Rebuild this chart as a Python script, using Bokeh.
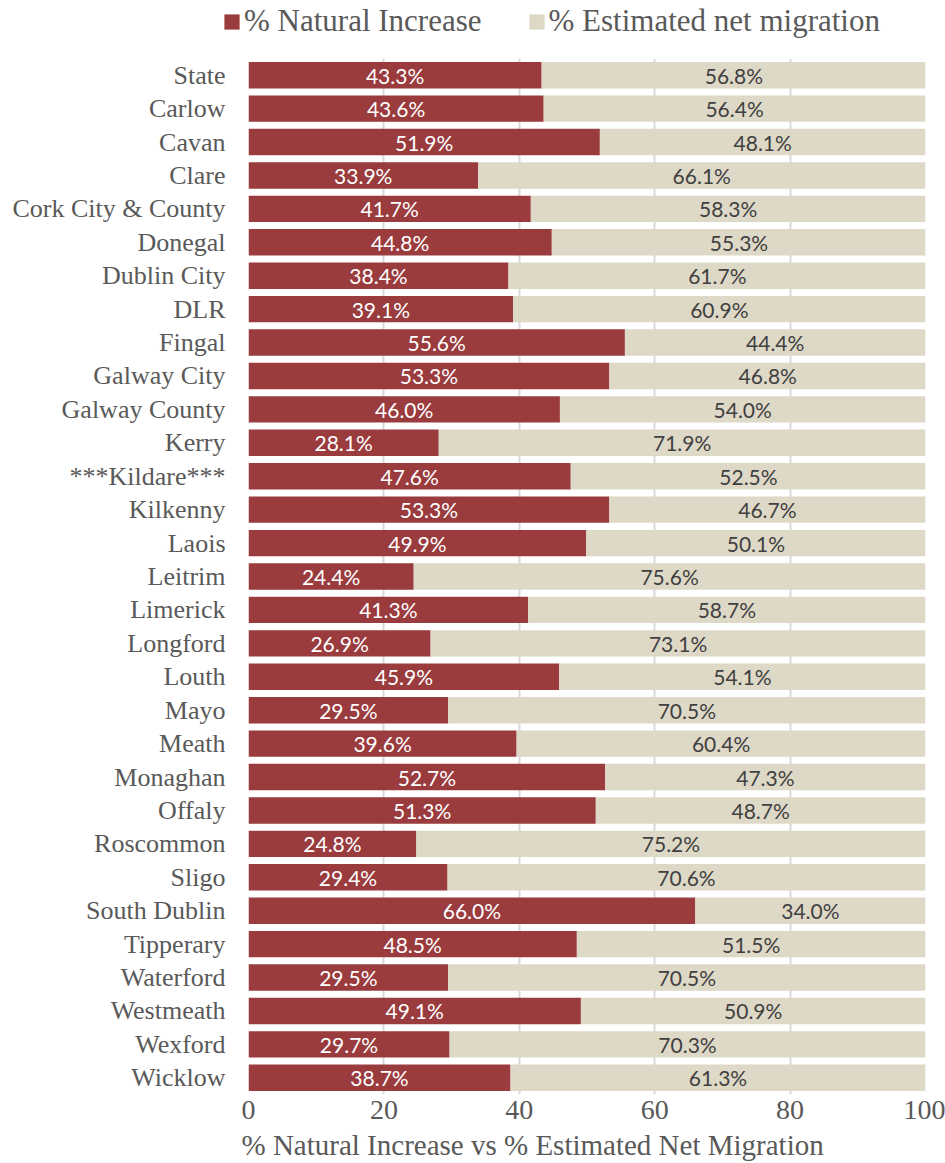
from bokeh.plotting import figure
from bokeh.models import ColumnDataSource, Range1d, FactorRange, Legend, LegendItem, FixedTicker, Title
from bokeh.layouts import column, row
from bokeh.core.properties import value
from bokeh.embed import file_html
from bokeh.resources import INLINE

categories = ["State", "Carlow", "Cavan", "Clare", "Cork City & County", "Donegal",
              "Dublin City", "DLR", "Fingal", "Galway City", "Galway County", "Kerry",
              "***Kildare***", "Kilkenny", "Laois", "Leitrim", "Limerick", "Longford",
              "Louth", "Mayo", "Meath", "Monaghan", "Offaly", "Roscommon", "Sligo",
              "South Dublin", "Tipperary", "Waterford", "Westmeath", "Wexford", "Wicklow"]
natural_increase = [43.3, 43.6, 51.9, 33.9, 41.7, 44.8, 38.4, 39.1, 55.6, 53.3, 46.0, 28.1,
                    47.6, 53.3, 49.9, 24.4, 41.3, 26.9, 45.9, 29.5, 39.6, 52.7, 51.3, 24.8,
                    29.4, 66.0, 48.5, 29.5, 49.1, 29.7, 38.7]
net_migration = [56.8, 56.4, 48.1, 66.1, 58.3, 55.3, 61.7, 60.9, 44.4, 46.8, 54.0, 71.9,
                 52.5, 46.7, 50.1, 75.6, 58.7, 73.1, 54.1, 70.5, 60.4, 47.3, 48.7, 75.2,
                 70.6, 34.0, 51.5, 70.5, 50.9, 70.3, 61.3]
x_ticks = [0, 20, 40, 60, 80, 100]
series_names = ["% Natural Increase", "% Estimated net migration"]
x_title = "% Natural Increase vs % Estimated Net Migration"

RED = "#9A3B3E"
BEIGE = "#DED8C7"
GREY = "#595959"
SERIF = "Liberation Serif"

src = ColumnDataSource(dict(
    cat=categories,
    nat_end=natural_increase,
    mig_end=[a + b for a, b in zip(natural_increase, net_migration)],
    nat_mid=[a / 2 for a in natural_increase],
    mig_mid=[a + b / 2 for a, b in zip(natural_increase, net_migration)],
    nat_lbl=[f"{v:.1f}%" for v in natural_increase],
    mig_lbl=[f"{v:.1f}%" for v in net_migration],
))

# ---------- legend strip ----------
top = figure(width=945, height=58, x_range=Range1d(0, 100),
             y_range=FactorRange(factors=categories[::-1]),
             x_axis_location=None, y_axis_location=None, min_border=0,
             output_backend="svg", toolbar_location=None)
top.outline_line_color = None
top.xgrid.visible = False
top.ygrid.visible = False
d1 = top.hbar(y="cat", left=0, right="nat_end", height=0.79, source=src,
              fill_color=RED, line_color=None, visible=False)
d2 = top.hbar(y="cat", left="nat_end", right="mig_end", height=0.79, source=src,
              fill_color=BEIGE, line_color=None, visible=False)
legend = Legend(items=[LegendItem(label=series_names[0], renderers=[d1]),
                       LegendItem(label=series_names[1], renderers=[d2])],
                orientation="horizontal", location=(222, 19),
                label_text_font=SERIF, label_text_font_size="31px",
                label_text_color=GREY, glyph_width=19, glyph_height=19,
                spacing=45, label_standoff=3, padding=0, margin=0,
                inactive_fill_alpha=0,
                border_line_color=None, background_fill_alpha=0)
top.add_layout(legend, "center")

# ---------- main chart ----------
p = figure(
    frame_width=677, frame_height=1036,
    x_range=Range1d(0, 100),
    y_range=FactorRange(factors=categories[::-1]),
    output_backend="svg", toolbar_location=None,
    min_border_left=248, min_border_right=20, min_border_top=0, min_border_bottom=69,
)
p.outline_line_color = None

p.hbar(y="cat", left=0, right="nat_end", height=0.79, source=src,
       fill_color=RED, line_color=None)
p.hbar(y="cat", left="nat_end", right="mig_end", height=0.79, source=src,
       fill_color=BEIGE, line_color=None)

p.text(x="nat_mid", y="cat", text="nat_lbl", source=src, text_align="center",
       text_baseline="middle", text_color="white", text_font=value("Lato"),
       text_font_size="21px")
p.text(x="mig_mid", y="cat", text="mig_lbl", source=src, text_align="center",
       text_baseline="middle", text_color="#404040", text_font=value("Lato"),
       text_font_size="21px")

p.xaxis.ticker = FixedTicker(ticks=x_ticks)
p.xaxis.axis_line_color = None
p.xaxis.major_tick_line_color = None
p.xaxis.minor_tick_line_color = None
p.xaxis.major_tick_out = 0
p.xaxis.major_label_standoff = 6
p.xaxis.major_label_text_font = SERIF
p.xaxis.major_label_text_font_size = "28px"
p.xaxis.major_label_text_color = GREY

p.add_layout(Title(text=x_title, align="left", offset=-7, text_font=SERIF,
                   text_font_size="29px", text_font_style="normal",
                   text_color=GREY, standoff=10), "below")

p.yaxis.axis_line_color = None
p.yaxis.major_tick_line_color = None
p.yaxis.minor_tick_line_color = None
p.yaxis.major_tick_out = 0
p.yaxis.major_label_standoff = 23
p.yaxis.major_label_text_font = SERIF
p.yaxis.major_label_text_font_size = "26px"
p.yaxis.major_label_text_color = GREY

p.xgrid.ticker = FixedTicker(ticks=x_ticks)
p.xgrid.grid_line_color = "#D9D9D9"
p.xgrid.grid_line_width = 2
p.ygrid.grid_line_color = None

layout = column(row(top), p, spacing=0)
open("out.html", "w").write(file_html(layout, INLINE))
